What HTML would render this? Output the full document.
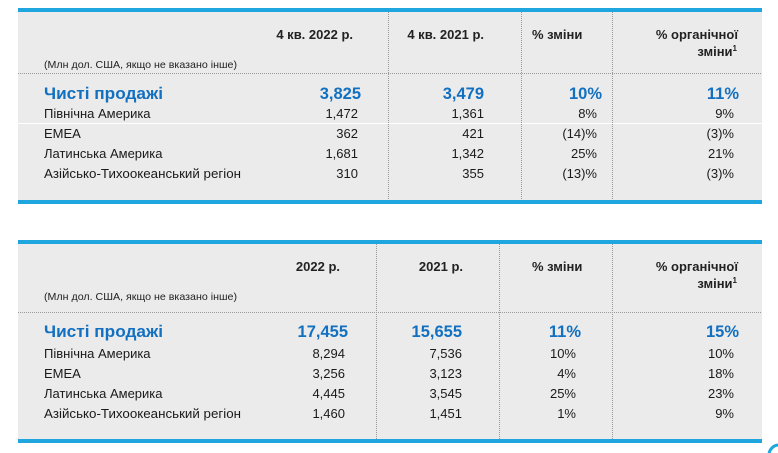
<!DOCTYPE html>
<html><head><meta charset="utf-8"><style>
html,body{margin:0;padding:0;background:#fff;}
svg{display:block;}
text{font-family:"Liberation Sans","DejaVu Sans",sans-serif;}
.h{font-size:13px;font-weight:bold;fill:#222;}
.s{font-size:10.5px;fill:#222;}
.b{font-size:16.5px;font-weight:bold;fill:#1270c1;}
.r{font-size:13px;fill:#1a1a1a;}
.e{text-anchor:end;}
</style></head><body>
<svg width="778" height="453" viewBox="0 0 778 453" xmlns="http://www.w3.org/2000/svg">
<!-- Table 1 -->
<rect x="18" y="12" width="744" height="188" fill="#ebebeb"/>
<rect x="18" y="8" width="744" height="4" fill="#1fa6df"/>
<rect x="18" y="200" width="744" height="4" fill="#1fa6df"/>
<line x1="18" y1="73.5" x2="762" y2="73.5" stroke="#9a9a9a" stroke-width="1" stroke-dasharray="1,1"/>
<line x1="18" y1="123.5" x2="762" y2="123.5" stroke="#ffffff" stroke-width="1"/>
<line x1="388.5" y1="12" x2="388.5" y2="200" stroke="#9a9a9a" stroke-width="1" stroke-dasharray="1,1"/>
<line x1="521.5" y1="12" x2="521.5" y2="200" stroke="#9a9a9a" stroke-width="1" stroke-dasharray="1,1"/>
<line x1="612.5" y1="12" x2="612.5" y2="200" stroke="#9a9a9a" stroke-width="1" stroke-dasharray="1,1"/>

<text class="h e" x="353" y="39">4 кв. 2022 р.</text>
<text class="h e" x="484" y="39">4 кв. 2021 р.</text>
<text class="h" x="532" y="39">% зміни</text>
<text class="h e" x="738" y="39">% органічної</text>
<text class="h e" x="737" y="56">зміни<tspan font-size="8" dy="-5">1</tspan></text>

<text class="s" x="44" y="68" textLength="193" lengthAdjust="spacingAndGlyphs">(Млн дол. США, якщо не вказано інше)</text>

<text class="b" x="44" y="99" textLength="119" lengthAdjust="spacingAndGlyphs">Чисті продажі</text>
<text class="b e" x="361" y="99">3,825</text>
<text class="b e" x="484" y="99">3,479</text>
<text class="b e" x="602" y="99">10%</text>
<text class="b e" x="739" y="99">11%</text>

<text class="r" x="44" y="118">Північна Америка</text>
<text class="r" x="44" y="138">EMEA</text>
<text class="r" x="44" y="158">Латинська Америка</text>
<text class="r" x="44" y="178" textLength="197" lengthAdjust="spacingAndGlyphs">Азійсько-Тихоокеанський регіон</text>

<text class="r e" x="358" y="118">1,472</text>
<text class="r e" x="358" y="138">362</text>
<text class="r e" x="358" y="158">1,681</text>
<text class="r e" x="358" y="178">310</text>

<text class="r e" x="484" y="118">1,361</text>
<text class="r e" x="484" y="138">421</text>
<text class="r e" x="484" y="158">1,342</text>
<text class="r e" x="484" y="178">355</text>

<text class="r e" x="597" y="118">8%</text>
<text class="r e" x="597" y="138">(14)%</text>
<text class="r e" x="597" y="158">25%</text>
<text class="r e" x="597" y="178">(13)%</text>

<text class="r e" x="734" y="118">9%</text>
<text class="r e" x="734" y="138">(3)%</text>
<text class="r e" x="734" y="158">21%</text>
<text class="r e" x="734" y="178">(3)%</text>

<!-- Table 2 -->
<rect x="18" y="244" width="744" height="195" fill="#ebebeb"/>
<rect x="18" y="240" width="744" height="4" fill="#1fa6df"/>
<rect x="18" y="439" width="744" height="4" fill="#1fa6df"/>
<line x1="18" y1="312.5" x2="762" y2="312.5" stroke="#9a9a9a" stroke-width="1" stroke-dasharray="1,1"/>
<line x1="376.5" y1="244" x2="376.5" y2="439" stroke="#9a9a9a" stroke-width="1" stroke-dasharray="1,1"/>
<line x1="499.5" y1="244" x2="499.5" y2="439" stroke="#9a9a9a" stroke-width="1" stroke-dasharray="1,1"/>
<line x1="612.5" y1="244" x2="612.5" y2="439" stroke="#9a9a9a" stroke-width="1" stroke-dasharray="1,1"/>

<text class="h e" x="340" y="271">2022 р.</text>
<text class="h e" x="463" y="271">2021 р.</text>
<text class="h" x="532" y="271">% зміни</text>
<text class="h e" x="738" y="271">% органічної</text>
<text class="h e" x="737" y="288">зміни<tspan font-size="8" dy="-5">1</tspan></text>

<text class="s" x="44" y="300" textLength="193" lengthAdjust="spacingAndGlyphs">(Млн дол. США, якщо не вказано інше)</text>

<text class="b" x="44" y="337" textLength="119" lengthAdjust="spacingAndGlyphs">Чисті продажі</text>
<text class="b e" x="348" y="337">17,455</text>
<text class="b e" x="462" y="337">15,655</text>
<text class="b e" x="581" y="337">11%</text>
<text class="b e" x="739" y="337">15%</text>

<text class="r" x="44" y="358">Північна Америка</text>
<text class="r" x="44" y="378">EMEA</text>
<text class="r" x="44" y="398">Латинська Америка</text>
<text class="r" x="44" y="418" textLength="197" lengthAdjust="spacingAndGlyphs">Азійсько-Тихоокеанський регіон</text>

<text class="r e" x="345" y="358">8,294</text>
<text class="r e" x="345" y="378">3,256</text>
<text class="r e" x="345" y="398">4,445</text>
<text class="r e" x="345" y="418">1,460</text>

<text class="r e" x="462" y="358">7,536</text>
<text class="r e" x="462" y="378">3,123</text>
<text class="r e" x="462" y="398">3,545</text>
<text class="r e" x="462" y="418">1,451</text>

<text class="r e" x="576" y="358">10%</text>
<text class="r e" x="576" y="378">4%</text>
<text class="r e" x="576" y="398">25%</text>
<text class="r e" x="576" y="418">1%</text>

<text class="r e" x="734" y="358">10%</text>
<text class="r e" x="734" y="378">18%</text>
<text class="r e" x="734" y="398">23%</text>
<text class="r e" x="734" y="418">9%</text>

<!-- corner arc -->
<circle cx="779" cy="455" r="10" fill="none" stroke="#1fa6df" stroke-width="3"/>
</svg>
</body></html>
